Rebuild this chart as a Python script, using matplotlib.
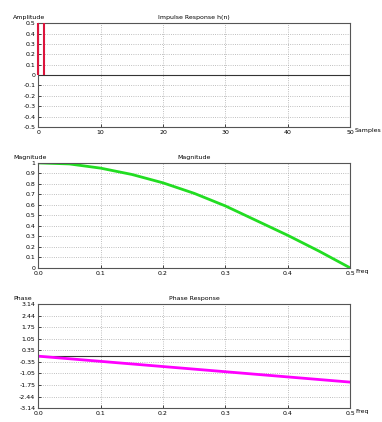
"""
Impulse / magnitude / phase response of a 2-tap averaging filter
"""
import matplotlib
matplotlib.use('Agg')
import matplotlib.pyplot as plt

# impulse response samples
n_idx = [0, 1]
h_vals = [0.5, 0.5]
n_ticks = [0, 10, 20, 30, 40, 50]
amp_ticks = [0.5, 0.4, 0.3, 0.2, 0.1, 0.0, -0.1, -0.2, -0.3, -0.4, -0.5]
amp_labels = ['0.5', '0.4', '0.3', '0.2', '0.1', '0', '-0.1', '-0.2', '-0.3', '-0.4', '-0.5']

# frequency response (normalised frequency)
freq = [0.0, 0.05, 0.1, 0.15, 0.2, 0.25, 0.3, 0.35, 0.4, 0.45, 0.5]
mag = [1.0, 0.99, 0.95, 0.89, 0.81, 0.71, 0.59, 0.45, 0.31, 0.16, 0.0]
phase = [0.0, -0.157, -0.314, -0.471, -0.628, -0.785, -0.942, -1.10, -1.257, -1.414, -1.571]

freq_ticks = [0.0, 0.1, 0.2, 0.3, 0.4, 0.5]
freq_labels = ['0.0', '0.1', '0.2', '0.3', '0.4', '0.5']
mag_ticks = [1.0, 0.9, 0.8, 0.7, 0.6, 0.5, 0.4, 0.3, 0.2, 0.1, 0.0]
mag_labels = ['1', '0.9', '0.8', '0.7', '0.6', '0.5', '0.4', '0.3', '0.2', '0.1', '0']
ph_ticks = [3.1416, 2.4435, 1.7453, 1.0472, 0.3491, -0.3491, -1.0472, -1.7453, -2.4435, -3.1416]
ph_labels = ['3.14', '2.44', '1.75', '1.05', '0.35', '-0.35', '-1.05', '-1.75', '-2.44', '-3.14']

FS = 4.5
fig = plt.figure(figsize=(3.82, 4.22), dpi=100)

left, width = 0.10, 0.817
ax1 = fig.add_axes([left, 0.699, width, 0.246])
ax2 = fig.add_axes([left, 0.365, width, 0.249])
ax3 = fig.add_axes([left, 0.033, width, 0.246])


def style(ax, title, ylabel, xlabel):
    ax.grid(True, color='#aaaaaa', linestyle=':', linewidth=0.6)
    ax.tick_params(direction='in', labelsize=FS, length=2, width=0.5, pad=2)
    for s in ax.spines.values():
        s.set_color('#555555')
        s.set_linewidth(0.8)
    ax.set_title(title, fontsize=FS, pad=3)
    ax.text(-0.08, 1.03, ylabel, transform=ax.transAxes, fontsize=FS, ha='left', va='bottom')
    ax.text(1.015, -0.03, xlabel, transform=ax.transAxes, fontsize=FS, ha='left', va='center')


# PANEL 1: impulse response
ax1.axhline(0, color='#333333', linewidth=0.8)
ax1.vlines(n_idx, 0, h_vals, colors='crimson', linewidth=1.5, zorder=4, clip_on=False)
ax1.set_xlim(0, 50)
ax1.set_ylim(-0.5, 0.5)
ax1.set_xticks(n_ticks)
ax1.set_yticks(amp_ticks)
ax1.set_yticklabels(amp_labels)
style(ax1, 'Impulse Response h(n)', 'Amplitude', 'Samples')

# PANEL 2: magnitude
ax2.plot(freq, mag, color='#22dd22', linewidth=2)
ax2.set_xlim(0, 0.5)
ax2.set_ylim(0, 1)
ax2.set_xticks(freq_ticks)
ax2.set_xticklabels(freq_labels)
ax2.set_yticks(mag_ticks)
ax2.set_yticklabels(mag_labels)
style(ax2, 'Magnitude', 'Magnitude', 'Freq')

# PANEL 3: phase
ax3.axhline(0, color='#333333', linewidth=0.8)
ax3.plot(freq, phase, color='magenta', linewidth=2)
ax3.set_xlim(0, 0.5)
ax3.set_ylim(-3.1416, 3.1416)
ax3.set_xticks(freq_ticks)
ax3.set_xticklabels(freq_labels)
ax3.set_yticks(ph_ticks)
ax3.set_yticklabels(ph_labels)
style(ax3, 'Phase Response', 'Phase', 'Freq')

fig.savefig('out.png', dpi=100)
plt.close(fig)
